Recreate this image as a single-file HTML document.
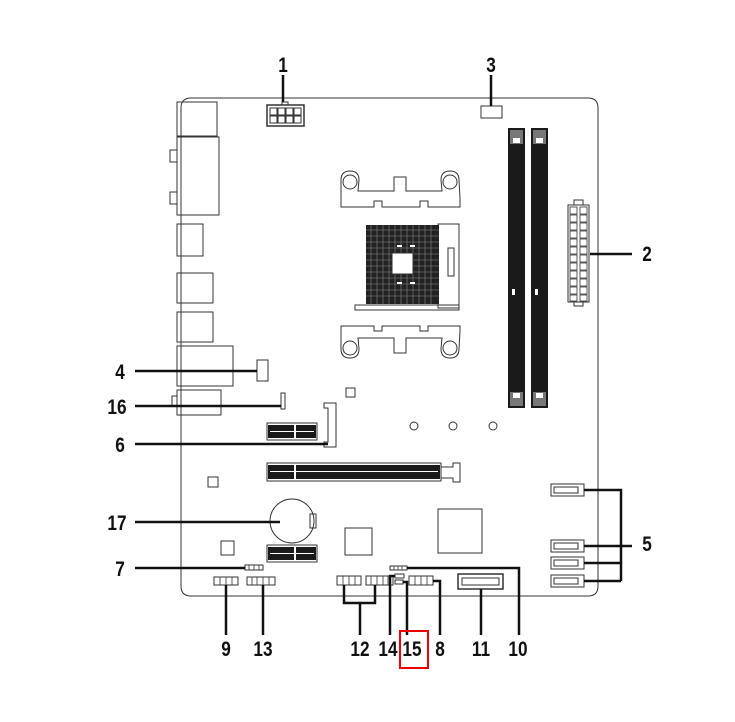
<!DOCTYPE html>
<html><head><meta charset="utf-8"><style>
html,body{margin:0;padding:0;background:#fff;width:735px;height:722px;overflow:hidden}
svg text{font-family:"Liberation Sans",sans-serif;font-weight:bold;font-size:21px;fill:#111}
</style></head><body>
<svg width="735" height="722" viewBox="0 0 735 722" xmlns="http://www.w3.org/2000/svg">
<g fill="none" stroke="#333" stroke-width="1">
<path d="M191 98 H588 Q598 98 598 108 V586 Q598 596 588 596 H191 Q181 596 181 586 V108 Q181 98 191 98 Z"/>
<rect x="177" y="102" width="40" height="34"/>
<rect x="177" y="137" width="42" height="78"/>
<rect x="170" y="150" width="7" height="12"/>
<rect x="170" y="192" width="7" height="12"/>
<rect x="177" y="224" width="26" height="32"/>
<rect x="177" y="273" width="36" height="30"/>
<rect x="177" y="312" width="36" height="30"/>
<rect x="177" y="346" width="56" height="40"/>
<rect x="177" y="390" width="44" height="25"/>
<rect x="172" y="396" width="5" height="10"/>
<rect x="267" y="105" width="37" height="21" stroke-width="1.5"/>
<rect x="282" y="102" width="6" height="3"/>
<rect x="270" y="108" width="7" height="7"/><rect x="278" y="108" width="7" height="7"/><rect x="286" y="108" width="7" height="7"/><rect x="294" y="108" width="7" height="7"/>
<rect x="270" y="116" width="7" height="7"/><rect x="278" y="116" width="7" height="7"/><rect x="286" y="116" width="7" height="7"/><rect x="294" y="116" width="7" height="7"/>
<rect x="481" y="106" width="21" height="12"/>
<path d="M341 180 Q341 171 350 171 Q359 171 359 180 L358 191 H394 V177 H406 V191 H442 L441 180 Q441 171 450 171 Q459 171 459 180 L460 198 V207 H428 V201 H420 V207 H382 V201 H374 V207 H341 Z"/>
<circle cx="350" cy="182" r="7"/><circle cx="450" cy="182" r="7"/>
<path d="M341 349 Q341 358 350 358 Q359 358 359 349 L358 338 H394 V353 H406 V338 H442 L441 349 Q441 358 450 358 Q459 358 459 349 L460 331 V326 H428 V331 H420 V326 H382 V331 H374 V326 H341 Z"/>
<circle cx="350" cy="348" r="7"/><circle cx="450" cy="348" r="7"/>
<rect x="438" y="224" width="21" height="84"/>
<rect x="355" y="305" width="104" height="5"/>
<rect x="448" y="248" width="6" height="28"/>
</g>
<rect x="366" y="225" width="73" height="79" fill="#222"/>
<g stroke="#888" stroke-width="0.6">
<path d="M366 230H439M366 236H439M366 242H439M366 248H439M366 254H439M366 260H439M366 266H439M366 272H439M366 278H439M366 284H439M366 290H439M366 296H439"/>
<path d="M371 225V304M377 225V304M383 225V304M389 225V304M395 225V304M401 225V304M407 225V304M413 225V304M419 225V304M425 225V304M431 225V304"/>
</g>
<rect x="392" y="253" width="21" height="21" fill="#fff" stroke="#333"/>
<rect x="397" y="245" width="5" height="2" fill="#fff"/><rect x="410" y="245" width="5" height="2" fill="#fff"/>
<rect x="397" y="282" width="5" height="2" fill="#fff"/><rect x="410" y="282" width="5" height="2" fill="#fff"/>
<rect x="508" y="128" width="17" height="280" fill="#1a1a1a"/>
<rect x="531" y="128" width="17" height="280" fill="#1a1a1a"/>
<g fill="#777"><rect x="510" y="130" width="13" height="14"/><rect x="533" y="130" width="13" height="14"/><rect x="510" y="392" width="13" height="14"/><rect x="533" y="392" width="13" height="14"/></g>
<g fill="#fff"><rect x="513" y="138" width="7" height="5"/><rect x="536" y="138" width="7" height="5"/><rect x="513" y="393" width="7" height="5"/><rect x="536" y="393" width="7" height="5"/><rect x="512" y="289" width="3" height="6"/><rect x="535" y="289" width="3" height="6"/></g>
<g fill="none" stroke="#333">
<rect x="568" y="205" width="21" height="97"/>
<rect x="574" y="200" width="9" height="5"/><rect x="574" y="302" width="9" height="4"/>
</g>
<g fill="none" stroke="#333" stroke-width="0.8">
<rect x="570" y="207" width="7" height="7"/><rect x="580" y="207" width="7" height="7"/>
<rect x="570" y="215" width="7" height="7"/><rect x="580" y="215" width="7" height="7"/>
<rect x="570" y="223" width="7" height="7"/><rect x="580" y="223" width="7" height="7"/>
<rect x="570" y="231" width="7" height="7"/><rect x="580" y="231" width="7" height="7"/>
<rect x="570" y="239" width="7" height="7"/><rect x="580" y="239" width="7" height="7"/>
<rect x="570" y="247" width="7" height="7"/><rect x="580" y="247" width="7" height="7"/>
<rect x="570" y="255" width="7" height="7"/><rect x="580" y="255" width="7" height="7"/>
<rect x="570" y="263" width="7" height="7"/><rect x="580" y="263" width="7" height="7"/>
<rect x="570" y="271" width="7" height="7"/><rect x="580" y="271" width="7" height="7"/>
<rect x="570" y="279" width="7" height="7"/><rect x="580" y="279" width="7" height="7"/>
<rect x="570" y="287" width="7" height="7"/><rect x="580" y="287" width="7" height="7"/>
<rect x="570" y="295" width="7" height="6"/><rect x="580" y="295" width="7" height="6"/>
</g>
<g fill="none" stroke="#333">
<rect x="257" y="360" width="11" height="21"/>
<rect x="281" y="393" width="4" height="16"/>
<path d="M324 403 H336 V447 H324 V442 H328 V408 H324 Z"/>
<rect x="346" y="388" width="9" height="9"/>
<circle cx="414" cy="426" r="4"/><circle cx="453" cy="426" r="4"/><circle cx="493" cy="426" r="4"/>
<rect x="267" y="423" width="50" height="17"/>
<rect x="267" y="463" width="174" height="18"/>
<path d="M441 467 H453 V463 H460 V482 H453 V478 H441"/>
<rect x="208" y="477" width="10" height="10"/>
<circle cx="292" cy="521" r="22"/>
<rect x="310" y="514" width="6" height="14"/>
<rect x="345" y="528" width="27" height="27"/>
<rect x="438" y="509" width="44" height="44"/>
<rect x="221" y="541" width="13" height="14"/>
<rect x="267" y="545" width="50" height="17"/>
<path d="M551 484 H584 V496 H551 Z M554 487 H578 V493 H554 Z"/>
<path d="M551 540 H584 V552 H551 Z M554 543 H578 V549 H554 Z"/>
<path d="M551 557 H584 V569 H551 Z M554 560 H578 V566 H554 Z"/>
<path d="M551 575 H584 V587 H551 Z M554 578 H578 V584 H554 Z"/>
<rect x="245" y="565" width="18" height="5"/>
<rect x="214" y="577" width="24" height="8"/>
<rect x="247" y="577" width="28" height="8"/>
<rect x="337" y="576" width="24" height="9"/>
<rect x="366" y="576" width="27" height="9"/>
<rect x="390" y="566" width="17" height="4"/>
<rect x="395" y="574" width="9" height="4"/>
<rect x="395" y="580" width="8" height="4"/>
<rect x="409" y="576" width="24" height="9"/>
<rect x="458" y="574" width="45" height="15" stroke-width="1.5"/>
<rect x="462" y="578" width="37" height="7"/>
</g>
<g stroke="#333" stroke-width="0.8">
<path d="M220 577V585M226 577V585M232 577V585M252 577V585M257 577V585M263 577V585M269 577V585M343 576V585M349 576V585M355 576V585M371 576V585M377 576V585M383 576V585M388 576V585M415 576V585M421 576V585M427 576V585M249 565V570M254 565V570M259 565V570M394 566V570M398 566V570M402 566V570"/>
</g>
<g fill="#1a1a1a">
<rect x="268" y="425" width="48" height="13"/><rect x="268" y="465" width="172" height="14"/><rect x="268" y="547" width="48" height="13"/>
</g>
<g fill="#fff"><rect x="270" y="431" width="44" height="1"/><rect x="294" y="425" width="2" height="13"/><rect x="270" y="471" width="168" height="1"/><rect x="294" y="465" width="2" height="14"/><rect x="270" y="553" width="44" height="1"/><rect x="294" y="547" width="2" height="13"/></g>
<g fill="none" stroke="#111" stroke-width="2.5">
<path d="M283 75 V102"/>
<path d="M491 75 V106"/>
<path d="M590 254 H632"/>
<path d="M135 371 H257"/>
<path d="M135 406 H281"/>
<path d="M135 444 H328"/>
<path d="M135 522 H280"/>
<path d="M135 568 H245"/>
<path d="M584 490 H621 V581 M584 546 H632 M584 563 H621 M584 581 H621"/>
<path d="M226 585 V635"/>
<path d="M263 585 V635"/>
<path d="M344 585 V603 H375 V585 M360 603 V635"/>
<path d="M395 576 H390 V635"/>
<path d="M403 582 H407 V635"/>
<path d="M433 581 H440 V635"/>
<path d="M481 589 V635"/>
<path d="M407 568 H519 V635"/>
</g>
<g text-anchor="middle">
<text x="283" y="72" transform="translate(283 0) scale(0.82 1) translate(-283 0)">1</text>
<text x="491" y="72" transform="translate(491 0) scale(0.82 1) translate(-491 0)">3</text>
<text x="647" y="261" transform="translate(647 0) scale(0.82 1) translate(-647 0)">2</text>
<text x="647" y="551" transform="translate(647 0) scale(0.82 1) translate(-647 0)">5</text>
<text x="120" y="379" transform="translate(120 0) scale(0.82 1) translate(-120 0)">4</text>
<text x="117" y="414" transform="translate(117 0) scale(0.82 1) translate(-117 0)">16</text>
<text x="120" y="452" transform="translate(120 0) scale(0.82 1) translate(-120 0)">6</text>
<text x="117" y="530" transform="translate(117 0) scale(0.82 1) translate(-117 0)">17</text>
<text x="120" y="576" transform="translate(120 0) scale(0.82 1) translate(-120 0)">7</text>
<text x="226" y="656" transform="translate(226 0) scale(0.82 1) translate(-226 0)">9</text>
<text x="263" y="656" transform="translate(263 0) scale(0.82 1) translate(-263 0)">13</text>
<text x="360" y="656" transform="translate(360 0) scale(0.82 1) translate(-360 0)">12</text>
<text x="388" y="656" transform="translate(388 0) scale(0.82 1) translate(-388 0)">14</text>
<text x="412" y="656" transform="translate(412 0) scale(0.82 1) translate(-412 0)">15</text>
<text x="440" y="656" transform="translate(440 0) scale(0.82 1) translate(-440 0)">8</text>
<text x="481" y="656" transform="translate(481 0) scale(0.82 1) translate(-481 0)">11</text>
<text x="518" y="656" transform="translate(518 0) scale(0.82 1) translate(-518 0)">10</text>
</g>
<rect x="400" y="631" width="28" height="37" fill="none" stroke="#e00" stroke-width="2"/>
</svg>
</body></html>
